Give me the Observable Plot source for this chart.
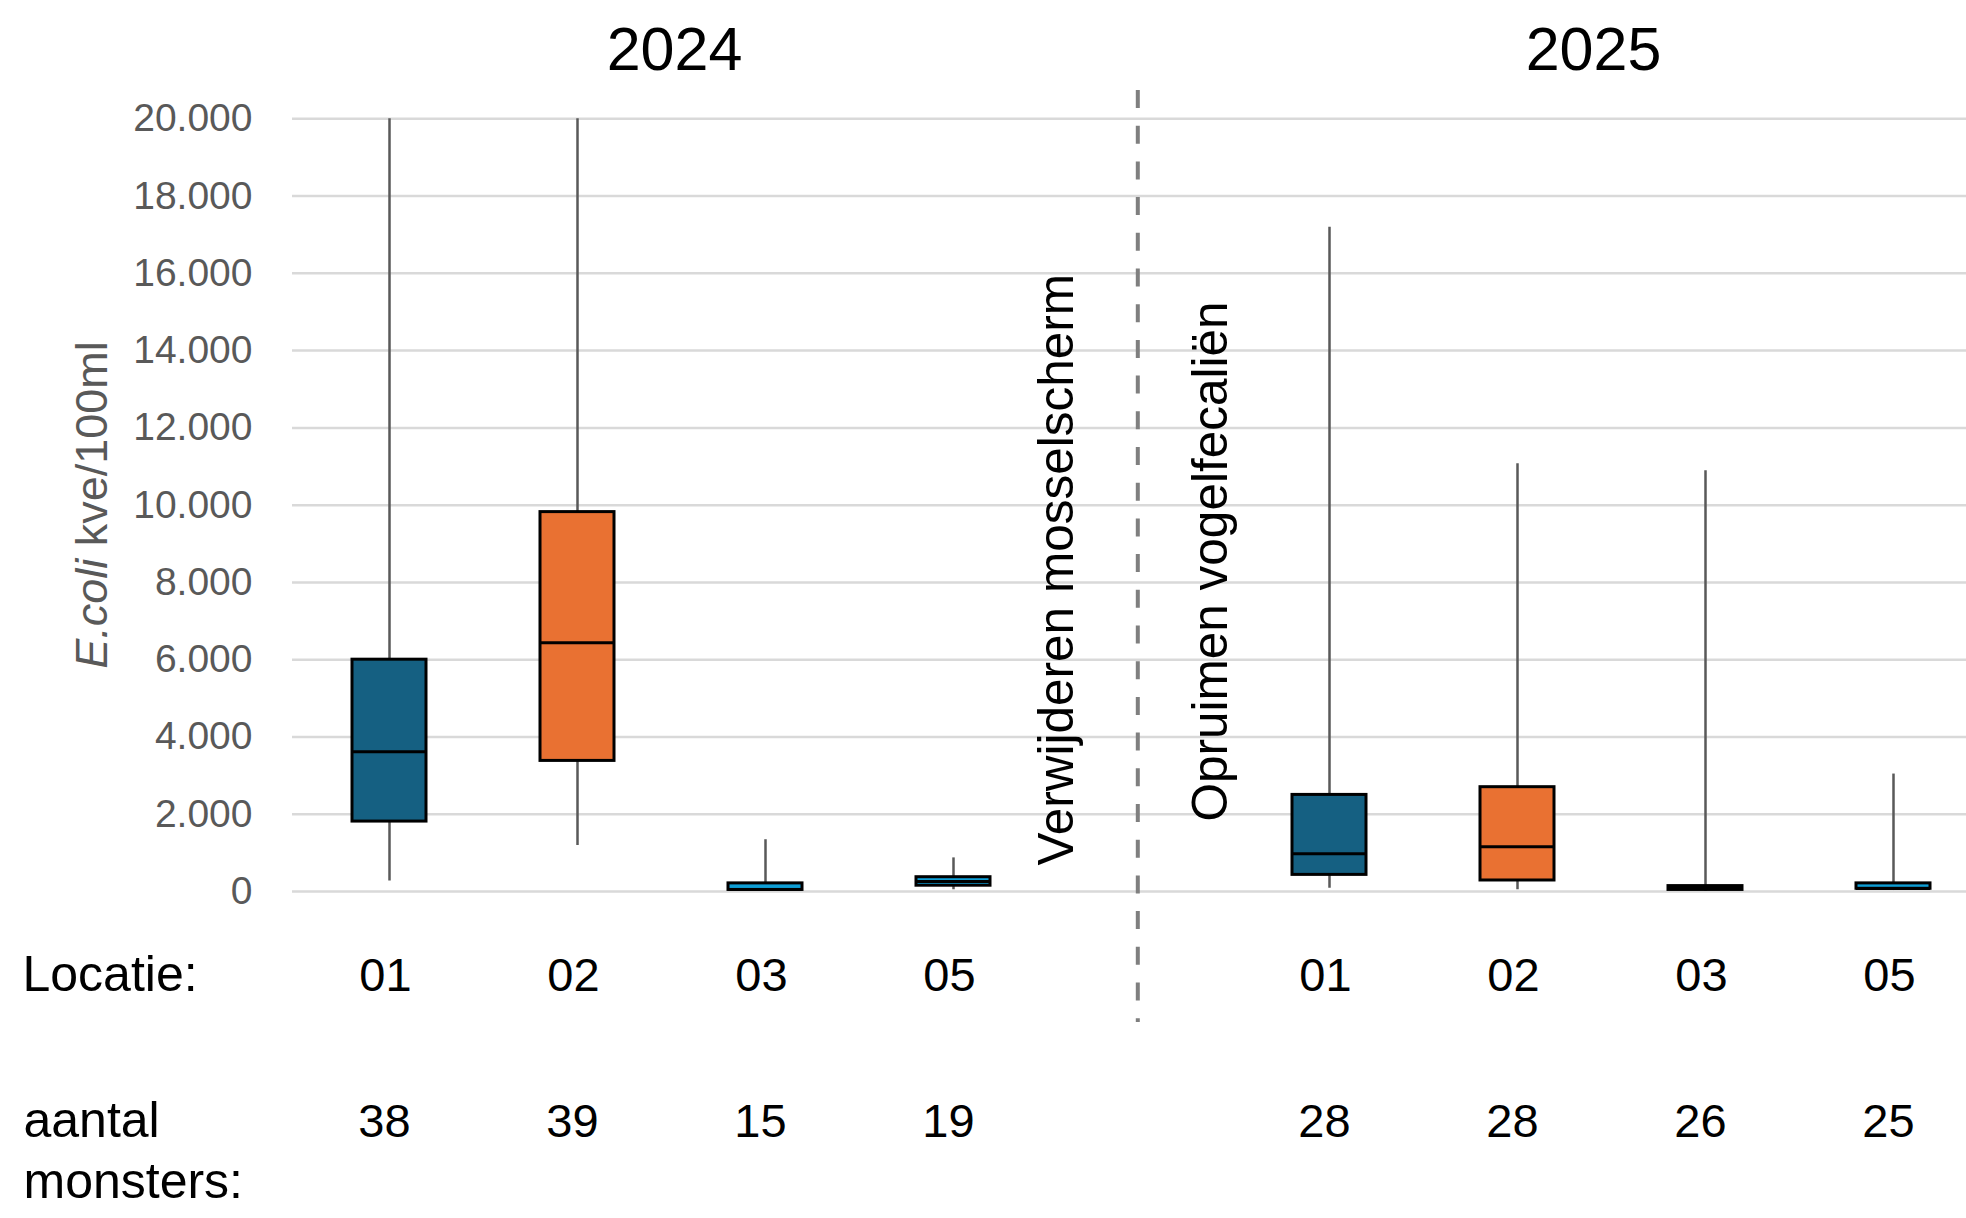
<!DOCTYPE html>
<html>
<head>
<meta charset="utf-8">
<script src="https://cdn.jsdelivr.net/npm/d3@7"></script>
<script src="https://cdn.jsdelivr.net/npm/@observablehq/plot@0.6"></script>
<style>
  html, body { margin: 0; padding: 0; background: #fff; }
  svg { display: block; }
</style>
</head>
<body>
<div id="chart"></div>
<script>
// ---- data ----
const years       = ["2024", "2024", "2024", "2024", "2025", "2025", "2025", "2025"];
const locations   = ["01", "02", "03", "05", "01", "02", "03", "05"];
const counts      = [38, 39, 15, 19, 28, 28, 26, 25];
const whiskerLow  = [270, 1190, 0, 45, 85, 45, 0, 25];
const quartile1   = [1810, 3380, 40, 150, 430, 285, 40, 70];
const medians     = [3620, 6440, 50, 260, 975, 1160, 80, 80];
const quartile3   = [6000, 9820, 210, 370, 2500, 2700, 140, 210];
const whiskerHigh = [20000, 20000, 1340, 870, 17190, 11070, 10890, 3040];

const locationKeys   = ["01", "02", "03", "05"];
const locationColors = ["#156082", "#E97132", "#0F9ED5", "#0F9ED5"];

const yTicks = [0, 2000, 4000, 6000, 8000, 10000, 12000, 14000, 16000, 18000, 20000];
const yLabelText = "E.coli kve/100ml";
const yLabelItalic = "E.coli";
const yLabelRest = " kve/100ml";
const dividerKey = "divider";
const dividerExtent = [20733, -3391];
const annotations = ["Verwijderen mosselscherm", "Opruimen vogelfecaliën"];
const rowLabelLocation = "Locatie:";
const rowLabelCount = "aantal\nmonsters:";

// ---- build table ----
const data = locations.map((loc, i) => ({
  slot: years[i] + "-" + loc,
  year: years[i],
  location: loc,
  low: whiskerLow[i],
  q1: quartile1[i],
  median: medians[i],
  q3: quartile3[i],
  high: whiskerHigh[i],
  n: String(counts[i])
}));
const slotDomain = [
  ...data.filter(d => d.year === "2024").map(d => d.slot),
  dividerKey,
  ...data.filter(d => d.year === "2025").map(d => d.slot)
];

const nl = d3.formatLocale({decimal: ",", thousands: ".", grouping: [3], currency: ["€", ""]});
const fmt = nl.format(",.0f");

const FONT = "'Liberation Sans', Arial, sans-serif";

const chart = Plot.plot({
  width: 1966,
  height: 1218,
  marginLeft: 292,
  marginRight: 0,
  marginTop: 118,
  marginBottom: 327,
  style: {fontFamily: FONT, background: "white"},
  x: {type: "band", domain: slotDomain, range: [292.75, 1989.25], paddingInner: 0.608, paddingOuter: 0.304, axis: null},
  y: {domain: [0, 20000], range: [891, 118.3]},
  color: {domain: locationKeys, range: locationColors},
  marks: [
    Plot.ruleY(yTicks, {stroke: "#d9d9d9", strokeWidth: 2.5}),
    Plot.axisY({ticks: yTicks, tickSize: 0, tickPadding: 40, tickFormat: fmt, fontSize: 39, fill: "#595959", color: "#595959", label: null}),
    // divider
    Plot.ruleX([dividerKey], {x: d => d, y1: () => dividerExtent[0], y2: () => dividerExtent[1],
      stroke: "#7f7f7f", strokeWidth: 4, strokeDasharray: "18,17.7", dx: -3.7, clip: false}),
    // whiskers
    Plot.ruleX(data, {x: "slot", y1: "low", y2: "high", stroke: "#595959", strokeWidth: 2.5}),
    // boxes
    Plot.barY(data, {x: "slot", y1: "q1", y2: "q3", fill: "location", stroke: "black", strokeWidth: 3}),
    // medians
    Plot.tickY(data, {x: "slot", y: "median", stroke: "black", strokeWidth: 3}),
    // year titles
    Plot.text(["2024"], {x: () => "2024-02", frameAnchor: "top", lineAnchor: "bottom", dx: 97, dy: -49, fontSize: 61, fill: "black"}),
    Plot.text(["2025"], {x: () => "2025-02", frameAnchor: "top", lineAnchor: "bottom", dx: 76, dy: -49, fontSize: 61, fill: "black"}),
    // annotations
    Plot.text([annotations[0]], {x: () => dividerKey, frameAnchor: "bottom", rotate: -90, textAnchor: "start", lineAnchor: "bottom", dx: -69, dy: -26, fontSize: 49.5, fill: "black"}),
    Plot.text([annotations[1]], {x: () => dividerKey, frameAnchor: "bottom", rotate: -90, textAnchor: "start", lineAnchor: "bottom", dx: 85, dy: -70, fontSize: 49.5, fill: "black"}),
    // y label
    Plot.text([yLabelText], {frameAnchor: "left", rotate: -90, textAnchor: "middle", lineAnchor: "bottom", dx: -186, fontSize: 45, fill: "#595959"}),
    // bottom rows
    Plot.text(data, {x: "slot", text: "location", frameAnchor: "bottom", lineAnchor: "bottom", dy: 99, dx: -4, fontSize: 47, fill: "black"}),
    Plot.text(data, {x: "slot", text: "n", frameAnchor: "bottom", lineAnchor: "bottom", dy: 245, dx: -5, fontSize: 47, fill: "black"}),
    Plot.text([rowLabelLocation], {frameAnchor: "bottom-left", textAnchor: "start", lineAnchor: "bottom", dx: -270, dy: 99, fontSize: 50, fill: "black"}),
    Plot.text([rowLabelCount], {frameAnchor: "bottom-left", textAnchor: "start", lineAnchor: "bottom", lineHeight: 1.22, dx: -269, dy: 306, fontSize: 50, fill: "black"})
  ]
});

// italic "E.coli" in the y label
d3.select(chart).selectAll("text")
  .filter(function () { return this.textContent === yLabelText; })
  .each(function () {
    const t = d3.select(this);
    t.text(null);
    t.append("tspan").attr("font-style", "italic").text(yLabelItalic);
    t.append("tspan").text(yLabelRest);
  });

document.getElementById("chart").appendChild(chart);
</script>
</body>
</html>
